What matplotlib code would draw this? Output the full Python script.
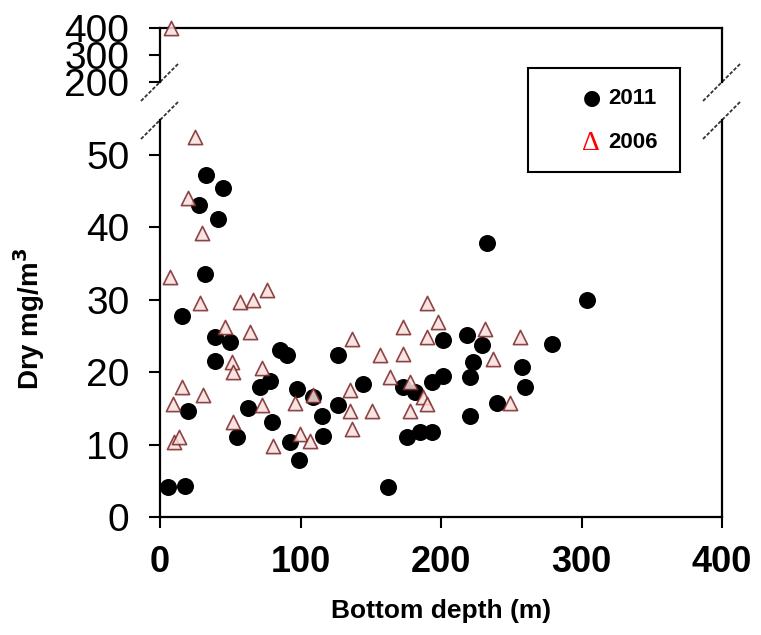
import numpy as np
import matplotlib
matplotlib.use("Agg")
import matplotlib.pyplot as plt
from matplotlib.patches import Rectangle

plt.rcParams['font.family'] = ['Liberation Sans', 'DejaVu Sans']

# 2011 survey (filled circles)
x_2011 = [5.9, 17.8, 15.4, 20.2, 28.0, 33.0, 44.6, 41.5, 32.0, 39.1, 49.8, 39.1,
          54.6, 62.9, 71.2, 78.3, 79.5, 85.4, 90.2, 92.5, 97.3, 99.2, 109.0, 115.0,
          115.8, 127.0, 127.0, 144.7, 162.5, 173.2, 181.5, 175.6, 185.0, 193.4,
          193.4, 201.7, 201.7, 218.3, 223.0, 220.6, 220.6, 229.0, 232.5, 239.6,
          257.4, 259.8, 278.8, 303.7]
y_2011 = [4.1, 4.3, 27.7, 14.7, 43.1, 47.2, 45.4, 41.2, 33.6, 24.8, 24.1, 21.6,
          11.0, 15.1, 17.9, 18.8, 13.1, 23.0, 22.3, 10.3, 17.7, 7.8, 16.5, 14.0,
          11.2, 22.3, 15.4, 18.4, 4.1, 17.9, 17.2, 11.0, 11.7, 11.7,
          18.6, 19.5, 24.4, 25.1, 21.4, 19.3, 14.0, 23.7, 37.8, 15.8,
          20.7, 17.9, 23.9, 29.9]

# 2006 survey (open triangles)
x_2006 = [8.0, 24.9, 20.0, 29.7, 7.1, 28.5, 57.0, 66.4, 76.0, 46.3, 64.0, 51.0,
          52.2, 72.4, 15.4, 30.8, 9.5, 10.0, 13.5, 72.4, 96.0, 52.0, 80.6, 99.6,
          106.8, 108.7, 189.8, 198.0, 173.2, 136.4, 189.8, 231.3, 256.2, 156.6,
          173.2, 237.2, 163.7, 178.0, 187.4, 135.2, 135.2, 150.7, 178.0, 189.8,
          136.4, 249.1]
y_2006 = [400.0, 52.4, 44.0, 39.2, 33.1, 29.5, 29.7, 29.9, 31.3, 26.2, 25.5, 21.4,
          20.0, 20.5, 17.9, 16.8, 15.6, 10.3, 11.0, 15.4, 15.8, 13.1, 9.8, 11.5,
          10.5, 16.8, 29.5, 26.9, 26.2, 24.6, 24.8, 26.0, 24.8, 22.3,
          22.5, 21.8, 19.3, 18.6, 16.5, 17.5, 14.7, 14.7, 14.7, 15.6,
          12.1, 15.8]

x_ticks = [0, 100, 200, 300, 400]
y_ticks_lo = [0, 10, 20, 30, 40, 50]
y_ticks_hi = [200, 300, 400]

W, H = 761, 635
fig = plt.figure(figsize=(W / 100, H / 100), dpi=100)

# axes boxes in pixels: left 160, right 722; lower 120..517, upper 28..82
ax_lo = fig.add_axes([160 / W, 1 - 517 / H, 562 / W, 397 / H])
ax_hi = fig.add_axes([160 / W, 1 - 82 / H, 562 / W, 54 / H], sharex=ax_lo)

tri_face = '#f9dede'
tri_edge = '#7a2626'
xa, ya = np.array(x_2006), np.array(y_2006)
hi = ya >= 200

ax_lo.scatter(x_2011, y_2011, s=150, marker='o', color='black', lw=0, zorder=3)
ax_lo.scatter(xa[~hi], ya[~hi], s=105, marker='^', facecolor=tri_face,
              edgecolor=tri_edge, linewidths=1.2, alpha=0.85, zorder=4)
ax_hi.scatter(xa[hi], ya[hi], s=105, marker='^', facecolor=tri_face,
              edgecolor=tri_edge, linewidths=1.2, alpha=0.85, zorder=4, clip_on=False)

for ax in (ax_lo, ax_hi):
    for sp in ax.spines.values():
        sp.set_linewidth(1.6)
    ax.tick_params(direction='out', width=1.5, length=8, labelsize=28, pad=14)

ax_lo.set_xlim(0, 400)
ax_lo.set_ylim(0, 54.8)
ax_hi.set_ylim(200, 400)

ax_lo.spines['top'].set_visible(False)
ax_hi.spines['bottom'].set_visible(False)

ax_lo.set_xticks(x_ticks)
ax_lo.set_yticks(y_ticks_lo)
ax_hi.set_yticks(y_ticks_hi)
ax_hi.tick_params(axis='x', bottom=False, labelbottom=False)
ax_lo.tick_params(axis='x', labelsize=26, pad=12)
for lab in ax_lo.get_xticklabels():
    lab.set_fontweight('bold')

ax_lo.set_xlabel('Bottom depth (m)', fontsize=19, fontweight='bold', labelpad=14)
ax_lo.set_ylabel('Dry mg/m$^\\mathbf{3}$', fontsize=20, fontweight='bold', labelpad=28)

# break marks on both vertical spines
dx = 19 / 562
dy_lo = 19 / 397
dy_hi = 19 / 54
kw = dict(color='#333333', lw=1.3, ls=(0, (2, 1)), clip_on=False)
for xc in (0, 1):
    ax_lo.plot([xc - dx, xc + dx], [1 - dy_lo, 1 + dy_lo], transform=ax_lo.transAxes, **kw)
    ax_hi.plot([xc - dx, xc + dx], [-dy_hi, dy_hi], transform=ax_hi.transAxes, **kw)

# hand-made legend box
fig.add_artist(Rectangle((528 / W, 1 - 172 / H), 152 / W, 104 / H, fill=False,
                         edgecolor='black', lw=1.5, transform=fig.transFigure))
fig.text(592 / W, 1 - 98 / H, '\u25cf', fontsize=15, ha='center', va='center',
         family=['DejaVu Sans'])
fig.text(608 / W, 1 - 98 / H, '2011', fontsize=16, fontweight='bold', va='center')
fig.text(591 / W, 1 - 143 / H, '\u0394', fontsize=20, color='red', ha='center',
         va='center', family=['Liberation Serif'])
fig.text(608 / W, 1 - 143 / H, '2006', fontsize=16, fontweight='bold', va='center')

fig.savefig('out.png', dpi=100)
